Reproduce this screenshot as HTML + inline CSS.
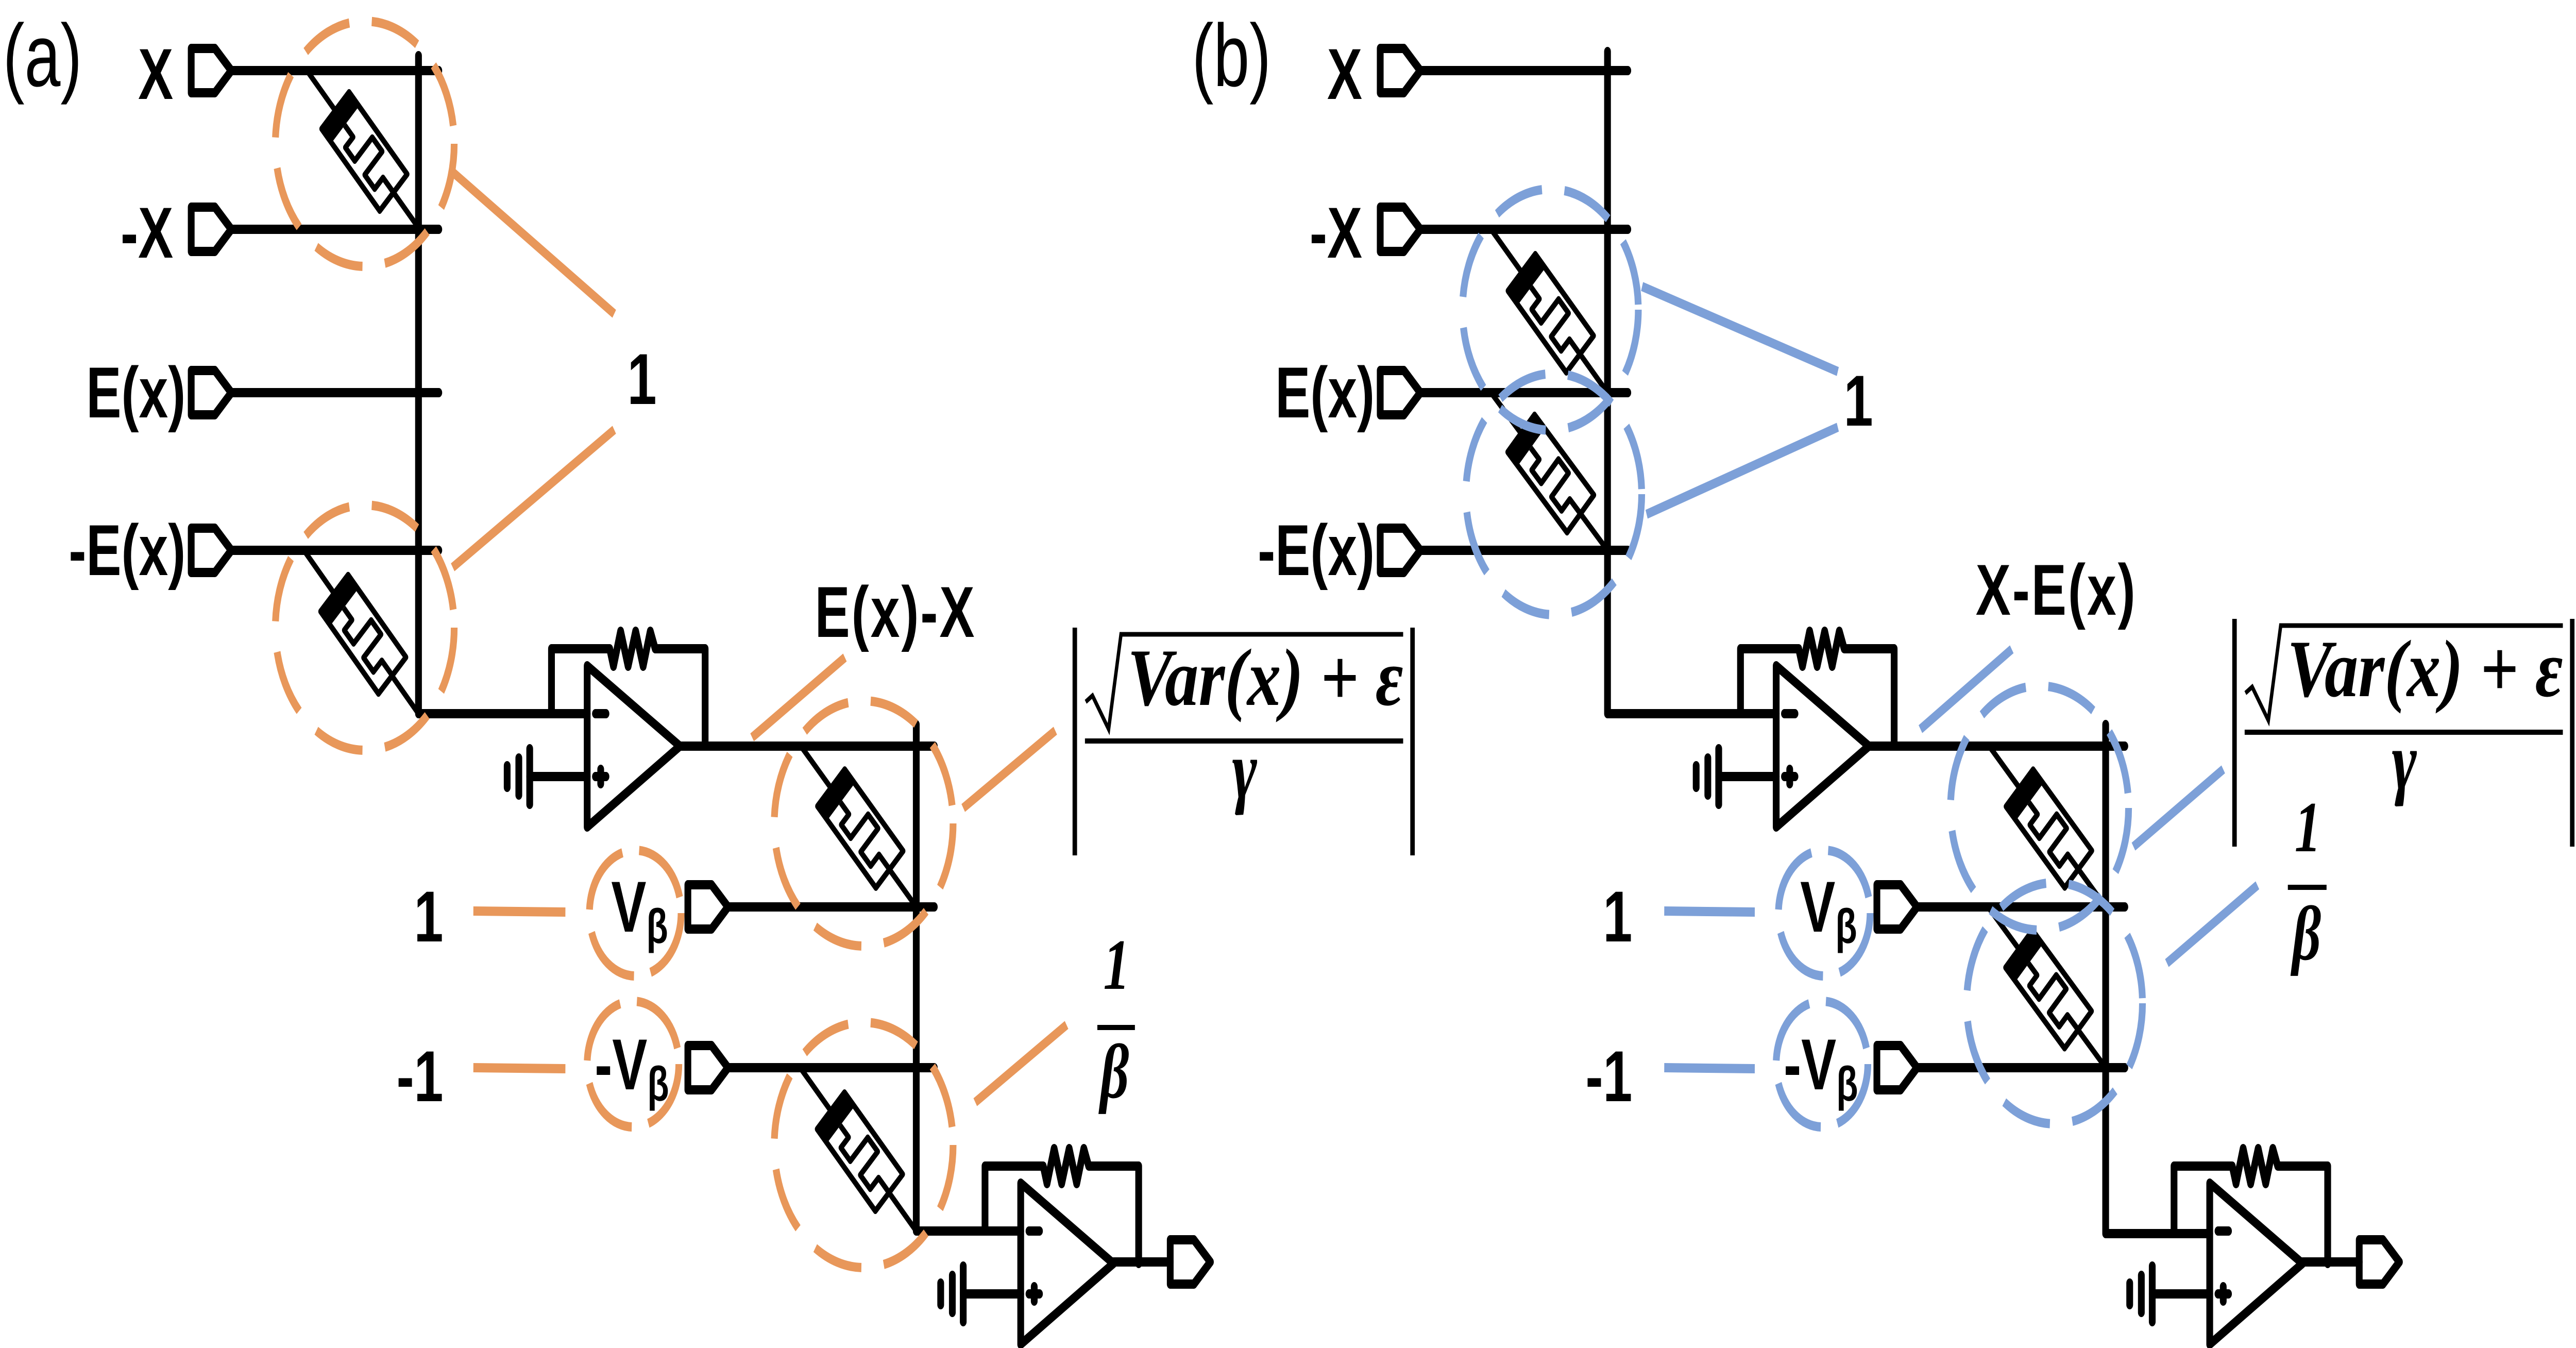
<!DOCTYPE html>
<html><head><meta charset="utf-8"><style>
html,body{margin:0;padding:0;background:#fff;width:100%;height:100%;overflow:hidden;}
svg{display:block;width:100vw;height:100vh;}
.k{stroke:#000;stroke-width:18;fill:none;stroke-linecap:round;stroke-linejoin:round;}
.o{stroke:#E8975A;stroke-width:18;fill:none;}
.b{stroke:#7DA0D8;stroke-width:18;fill:none;}
.oc{stroke:#E8975A;stroke-width:18;fill:none;stroke-dasharray:130 60;}
.bc{stroke:#7DA0D8;stroke-width:18;fill:none;stroke-dasharray:130 60;}
.os{stroke:#E8975A;stroke-width:18;fill:none;stroke-dasharray:150 45;}
.bs{stroke:#7DA0D8;stroke-width:18;fill:none;stroke-dasharray:150 45;}
.w{stroke:#000;stroke-width:12;fill:none;}
.t{font-family:"Liberation Sans",Arial,sans-serif;font-weight:bold;font-size:140px;fill:#000;}
.r{font-family:"Liberation Sans",Arial,sans-serif;font-size:172px;fill:#000;}
.m{font-family:"Liberation Serif","DejaVu Serif",serif;font-weight:bold;font-style:italic;fill:#000;}
</style></head><body>
<svg viewBox="0 0 6857 2616" preserveAspectRatio="none" xmlns="http://www.w3.org/2000/svg">
<defs>
<g id="mem">
<rect x="-111" y="-51" width="222" height="102" fill="#fff" stroke="#000" stroke-width="12" stroke-linejoin="round"/>
<rect x="-111" y="-51" width="38" height="102" fill="#000"/>
<polyline points="-73,2 -41,2 -41,31 -5,31 -5,-34 33,-34 33,31 71,31 71,0 111,0" fill="none" stroke="#000" stroke-width="12" stroke-linejoin="round"/>
</g>
<polygon id="port" points="9,-43 72,-43 116,0 72,43 9,43" fill="none" stroke="#000" stroke-width="18" stroke-linejoin="round"/>
<g id="opamp">
<polygon points="0,-93 0,220 247,63" fill="none" stroke="#000" stroke-width="18" stroke-linejoin="round"/>
<line x1="22" y1="0" x2="50" y2="0" class="k"/>
<line x1="22" y1="122" x2="50" y2="122" class="k"/>
<line x1="36" y1="108" x2="36" y2="136" class="k"/>
<line x1="-153" y1="122" x2="0" y2="122" class="k"/>
<line x1="-153" y1="68" x2="-153" y2="176" class="k"/>
<line x1="-182" y1="86" x2="-182" y2="158" class="k"/>
<line x1="-213" y1="101" x2="-213" y2="143" class="k"/>
<polyline class="k" points="-95,0 -95,-126 60,-126 70,-92 89,-160 109,-92 129,-160 149,-92 168,-160 181,-126 314,-126 314,63"/>
</g>
</defs>

<!-- PANEL (a) -->
<text class="r" x="8" y="167">(a)</text>
<g class="t" text-anchor="end">
<text x="461" y="192">X</text>
<text x="461" y="500">-X</text>
<text x="494" y="810">E(x)</text>
<text x="494" y="1116">-E(x)</text>
</g>
<use href="#port" x="500" y="137"/>
<use href="#port" x="500" y="445"/>
<use href="#port" x="500" y="762"/>
<use href="#port" x="500" y="1068"/>
<g class="k">
<line x1="616" y1="137" x2="1168" y2="137"/>
<line x1="616" y1="445" x2="1168" y2="445"/>
<line x1="616" y1="762" x2="1168" y2="762"/>
<line x1="616" y1="1068" x2="1168" y2="1068"/>
<polyline points="1114,108 1114,1385 1563,1385"/>
</g>
<line class="w" x1="817" y1="137" x2="1114" y2="442"/>
<use href="#mem" transform="translate(970,294) rotate(45.8)"/>
<line class="w" x1="809" y1="1068" x2="1114" y2="1385"/>
<use href="#mem" transform="translate(967,1231) rotate(46)"/>
<circle class="oc" cx="971" cy="279" r="238"/>
<circle class="oc" cx="971" cy="1218" r="238"/>
<line class="o" x1="1205" y1="334" x2="1635" y2="609"/>
<line class="o" x1="1205" y1="1101" x2="1635" y2="834"/>
<text class="t" x="1670" y="784">1</text>

<use href="#opamp" x="1563" y="1385"/>
<line class="k" x1="1810" y1="1448" x2="2487" y2="1448"/>
<text class="t" x="2169" y="1236" textLength="425">E(x)-X</text>
<line class="o" x1="2002" y1="1431" x2="2249" y2="1276"/>

<text class="t" text-anchor="end" x="1180" y="1827">1</text>
<text class="t" text-anchor="end" x="1180" y="2137">-1</text>
<line class="o" x1="1260" y1="1768" x2="1505" y2="1770"/>
<line class="o" x1="1260" y1="2072" x2="1505" y2="2074"/>
<text class="t" x="1627" y="1808">V<tspan font-size="95" dy="22">β</tspan></text>
<text class="t" x="1583" y="2114">-V<tspan font-size="95" dy="22">β</tspan></text>
<circle class="os" cx="1691" cy="1772" r="122"/>
<circle class="os" cx="1685" cy="2065" r="122"/>
<use href="#port" x="1822" y="1760"/>
<use href="#port" x="1822" y="2072"/>
<g class="k">
<line x1="1938" y1="1760" x2="2487" y2="1760"/>
<line x1="1938" y1="2072" x2="2487" y2="2072"/>
<polyline points="2439,1406 2439,2389 2717,2389"/>
</g>
<line class="w" x1="2132" y1="1448" x2="2439" y2="1760"/>
<use href="#mem" transform="translate(2290,1608) rotate(45.5)"/>
<line class="w" x1="2130" y1="2072" x2="2439" y2="2389"/>
<use href="#mem" transform="translate(2289,2235) rotate(45.7)"/>
<circle class="oc" cx="2299" cy="1598" r="238"/>
<circle class="oc" cx="2299" cy="2222" r="238"/>
<line class="o" x1="2564" y1="1568" x2="2809" y2="1418"/>
<line class="o" x1="2596" y1="2139" x2="2839" y2="1989"/>

<g>
<line x1="2861" y1="1218" x2="2861" y2="1660" stroke="#000" stroke-width="12"/>
<line x1="3760" y1="1218" x2="3760" y2="1660" stroke="#000" stroke-width="12"/>
<polyline points="2890,1362 2908,1350 2951,1415 2984,1231 3735,1231" fill="none" stroke="#000" stroke-width="9"/>
<text class="m" x="3001" y="1368" font-size="158" textLength="734" lengthAdjust="spacingAndGlyphs">Var(x) + ε</text>
<line x1="2888" y1="1438" x2="3735" y2="1438" stroke="#000" stroke-width="10"/>
<text class="m" x="3313" y="1548" font-size="160" text-anchor="middle">γ</text>
<text class="m" x="2972" y="1919" font-size="140" text-anchor="middle" font-style="normal">1</text>
<line x1="2921" y1="1994" x2="3021" y2="1994" stroke="#000" stroke-width="10"/>
<text class="m" x="2967" y="2130" font-size="150" text-anchor="middle">β</text>
</g>

<use href="#opamp" x="2717" y="2389"/>
<line class="k" x1="2964" y1="2449" x2="3115" y2="2449"/>
<use href="#port" x="3106" y="2449"/>

<!-- PANEL (b) -->
<text class="r" x="3173" y="167">(b)</text>
<g class="t" text-anchor="end">
<text x="3626" y="192">X</text>
<text x="3626" y="500">-X</text>
<text x="3659" y="810">E(x)</text>
<text x="3659" y="1116">-E(x)</text>
</g>
<use href="#port" x="3665" y="137"/>
<use href="#port" x="3665" y="445"/>
<use href="#port" x="3665" y="762"/>
<use href="#port" x="3665" y="1068"/>
<g class="k">
<line x1="3781" y1="137" x2="4333" y2="137"/>
<line x1="3781" y1="445" x2="4333" y2="445"/>
<line x1="3781" y1="762" x2="4333" y2="762"/>
<line x1="3781" y1="1068" x2="4333" y2="1068"/>
<polyline points="4279,100 4279,1385 4728,1385"/>
</g>
<line class="w" x1="3969" y1="445" x2="4279" y2="762"/>
<use href="#mem" transform="translate(4128,608) rotate(45.6)"/>
<line class="w" x1="3969" y1="762" x2="4279" y2="1068"/>
<use href="#mem" transform="translate(4128,919) rotate(44.6)"/>
<circle class="bc" cx="4127" cy="601" r="234"/>
<circle class="bc" cx="4136" cy="959" r="234"/>
<line class="b" x1="4371" y1="556" x2="4892" y2="721"/>
<line class="b" x1="4383" y1="998" x2="4892" y2="829"/>
<text class="t" x="4908" y="826">1</text>

<use href="#opamp" x="4728" y="1385"/>
<line class="k" x1="4975" y1="1448" x2="5656" y2="1448"/>
<text class="t" x="5259" y="1193" textLength="425">X-E(x)</text>
<line class="b" x1="5112" y1="1415" x2="5355" y2="1260"/>

<text class="t" text-anchor="end" x="4345" y="1827">1</text>
<text class="t" text-anchor="end" x="4345" y="2137">-1</text>
<line class="b" x1="4430" y1="1768" x2="4671" y2="1770"/>
<line class="b" x1="4430" y1="2072" x2="4671" y2="2074"/>
<text class="t" x="4792" y="1808">V<tspan font-size="95" dy="22">β</tspan></text>
<text class="t" x="4748" y="2114">-V<tspan font-size="95" dy="22">β</tspan></text>
<circle class="bs" cx="4856" cy="1772" r="122"/>
<circle class="bs" cx="4850" cy="2065" r="122"/>
<use href="#port" x="4987" y="1760"/>
<use href="#port" x="4987" y="2072"/>
<g class="k">
<line x1="5103" y1="1760" x2="5656" y2="1760"/>
<line x1="5103" y1="2072" x2="5656" y2="2072"/>
<polyline points="5605,1406 5605,2394 5882,2394"/>
</g>
<line class="w" x1="5295" y1="1448" x2="5605" y2="1760"/>
<use href="#mem" transform="translate(5454,1608) rotate(45.2)"/>
<line class="w" x1="5292" y1="1760" x2="5605" y2="2072"/>
<use href="#mem" transform="translate(5453,1920) rotate(44.9)"/>
<circle class="bc" cx="5429" cy="1568" r="237"/>
<circle class="bc" cx="5469" cy="1947" r="234"/>
<line class="b" x1="5679" y1="1643" x2="5918" y2="1493"/>
<line class="b" x1="5768" y1="1869" x2="6009" y2="1718"/>

<g>
<line x1="5948" y1="1201" x2="5948" y2="1643" stroke="#000" stroke-width="12"/>
<line x1="6847" y1="1201" x2="6847" y2="1643" stroke="#000" stroke-width="12"/>
<polyline points="5977,1345 5995,1333 6038,1398 6071,1214 6822,1214" fill="none" stroke="#000" stroke-width="9"/>
<text class="m" x="6088" y="1351" font-size="158" textLength="734" lengthAdjust="spacingAndGlyphs">Var(x) + ε</text>
<line x1="5975" y1="1421" x2="6822" y2="1421" stroke="#000" stroke-width="10"/>
<text class="m" x="6400" y="1531" font-size="160" text-anchor="middle">γ</text>
<text class="m" x="6143" y="1652" font-size="140" text-anchor="middle" font-style="normal">1</text>
<line x1="6090" y1="1722" x2="6193" y2="1722" stroke="#000" stroke-width="10"/>
<text class="m" x="6140" y="1862" font-size="150" text-anchor="middle">β</text>
</g>

<use href="#opamp" x="5882" y="2389"/>
<line class="k" x1="6129" y1="2449" x2="6280" y2="2449"/>
<use href="#port" x="6271" y="2449"/>
</svg>
</body></html>
